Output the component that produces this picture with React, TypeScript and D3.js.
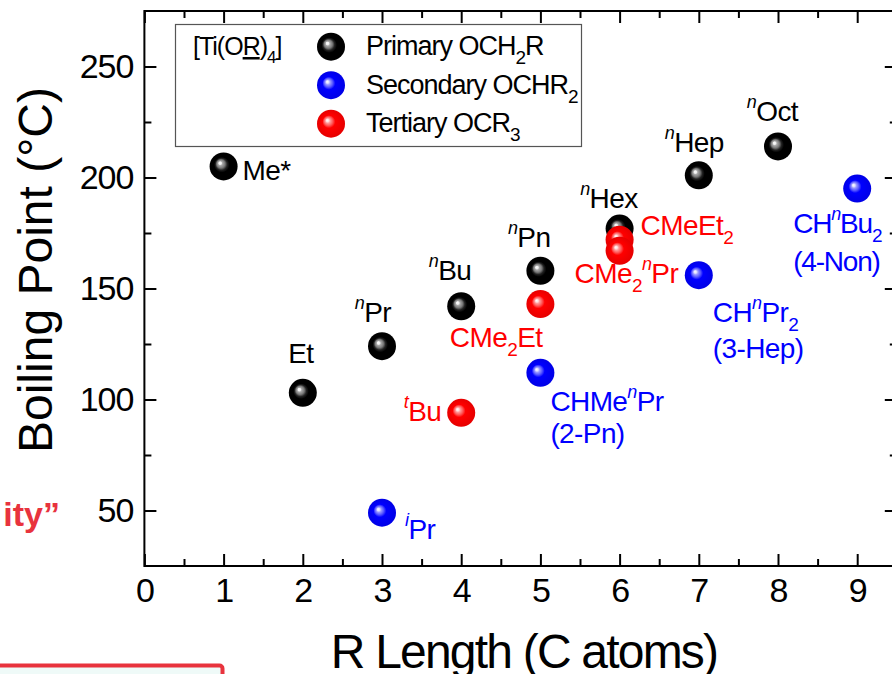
import * as d3 from 'd3';
import React, { useEffect, useRef } from 'react';

// R length (C atoms) vs boiling point (°C) for [Ti(OR)4]
const primaryNames = ['Me', 'Et', 'nPr', 'nBu', 'nPn', 'nHex', 'nHep', 'nOct'];
const primaryLength = [1, 2, 3, 4, 5, 6, 7, 8];
const primaryBp = [205, 103, 124, 142, 158, 177, 201, 214];

const secondaryNames = ['iPr', 'CHMenPr', 'CHnPr2', 'CHnBu2'];
const secondaryLength = [3, 5, 7, 9];
const secondaryBp = [49, 112, 156, 195];

const tertiaryNames = ['tBu', 'CMe2Et', 'CMeEt2', 'CMe2nPr'];
const tertiaryLength = [4, 5, 6, 6];
const tertiaryBp = [94, 143, 172, 167];

// label text, split into [text, kind] pieces ('' normal, 'sup' italic superscript, 'sub' subscript)
const labelText = {
  Me: [[['Me*', '']]],
  Et: [[['Et', '']]],
  nPr: [[['n', 'sup'], ['Pr', '']]],
  nBu: [[['n', 'sup'], ['Bu', '']]],
  nPn: [[['n', 'sup'], ['Pn', '']]],
  nHex: [[['n', 'sup'], ['Hex', '']]],
  nHep: [[['n', 'sup'], ['Hep', '']]],
  nOct: [[['n', 'sup'], ['Oct', '']]],
  iPr: [[['i', 'sup'], ['Pr', '']]],
  CHMenPr: [[['CHMe', ''], ['n', 'sup'], ['Pr', '']], [['(2-Pn)', '']]],
  CHnPr2: [[['CH', ''], ['n', 'sup'], ['Pr', ''], ['2', 'sub']], [['(3-Hep)', '']]],
  CHnBu2: [[['CH', ''], ['n', 'sup'], ['Bu', ''], ['2', 'sub']], [['(4-Non)', '']]],
  tBu: [[['t', 'sup'], ['Bu', '']]],
  CMe2Et: [[['CMe', ''], ['2', 'sub'], ['Et', '']]],
  CMeEt2: [[['CMeEt', ''], ['2', 'sub']]],
  CMe2nPr: [[['CMe', ''], ['2', 'sub'], ['n', 'sup'], ['Pr', '']]],
};

const legendItems = [
  { key: 'primary', parts: [['Primary OCH', ''], ['2', 'sub'], ['R', '']] },
  { key: 'secondary', parts: [['Secondary OCHR', ''], ['2', 'sub']] },
  { key: 'tertiary', parts: [['Tertiary OCR', ''], ['3', 'sub']] },
];

const xTicks = [0, 1, 2, 3, 4, 5, 6, 7, 8, 9];
const yTicks = [50, 100, 150, 200, 250];
const yMinorTicks = [75, 125, 175, 225];

// where each label sits relative to its ball (pixels)
const labelPos = {
  Me: { dx: 19, dy: 14, anchor: 'start' },
  Et: { dx: -2, dy: -30, anchor: 'middle' },
  nPr: { dx: 9, dy: -24, anchor: 'end' },
  nBu: { dx: 10, dy: -26, anchor: 'end' },
  nPn: { dx: 10, dy: -24, anchor: 'end' },
  nHex: { dx: 18, dy: -21, anchor: 'end' },
  nHep: { dx: 25, dy: -23, anchor: 'end' },
  nOct: { dx: 20, dy: -25, anchor: 'end' },
  iPr: { dx: 23, dy: 26, anchor: 'start' },
  CHMenPr: { dx: 10, dy: 38, anchor: 'start', line: 32 },
  CHnPr2: { dx: 14, dy: 47, anchor: 'start', line: 36 },
  CHnBu2: { dx: -64, dy: 44, anchor: 'start', line: 38 },
  tBu: { dx: -20, dy: 8, anchor: 'end' },
  CMe2Et: { dx: 2, dy: 43, anchor: 'end' },
  CMeEt2: { dx: 21, dy: -5, anchor: 'start' },
  CMe2nPr: { dx: -45, dy: 32, anchor: 'start' },
};

const colors = { primary: '#000000', secondary: '#0000ff', tertiary: '#ff0000' };
const FONT = '"Liberation Sans", Arial, Helvetica, sans-serif';

const addParts = (text, parts) => {
  let shift = 0;
  parts.forEach(([t, kind]) => {
    const ts = text.append('tspan').text(t);
    let target = 0;
    if (kind === 'sup') {
      target = -13;
      ts.attr('font-size', 18).attr('font-style', 'italic');
    } else if (kind === 'sub') {
      target = 9;
      ts.attr('font-size', 19);
    }
    if (target !== shift) ts.attr('dy', target - shift);
    shift = target;
  });
};

const BoilingChart = () => {
  const ref = useRef(null);

  useEffect(() => {
    const svg = d3.select(ref.current);
    svg.selectAll('*').remove();

    const x = d3.scaleLinear().domain([0, 9.5]).range([144.4, 896.8]);
    const y = d3.scaleLinear().domain([25, 275]).range([566, 11]);
    const xMinor = d3.range(0.5, 9.5, 1);

    // cut-off stuff from the neighbouring slide
    svg.append('rect')
      .attr('x', -10).attr('y', 665.5).attr('width', 232.5).attr('height', 40).attr('rx', 3)
      .attr('fill', '#effaf8').attr('stroke', '#e8333d').attr('stroke-width', 4);
    svg.append('text')
      .attr('x', 60).attr('y', 526).attr('text-anchor', 'end')
      .attr('font-family', FONT).attr('font-weight', 'bold').attr('font-size', 34)
      .attr('fill', '#e8333d').text('ity\u201d');

    // gradients for the shiny balls
    const defs = svg.append('defs');
    const gradStops = {
      primary: [[0, '#ffffff'], [0.1, '#eeeeee'], [0.16, '#aaaaaa'], [0.3, '#777777'], [0.42, '#222222'], [0.55, '#000000'], [1, '#000000']],
      secondary: [[0, '#ffffff'], [0.1, '#ddddff'], [0.18, '#9999ff'], [0.32, '#5555ff'], [0.46, '#0000ff'], [1, '#0000e6']],
      tertiary: [[0, '#ffffff'], [0.1, '#ffdddd'], [0.18, '#ff9999'], [0.32, '#ff5555'], [0.46, '#ff0000'], [1, '#e60000']],
    };
    Object.entries(gradStops).forEach(([k, stops]) => {
      const g = defs.append('radialGradient').attr('id', `ball-${k}`)
        .attr('cx', '50%').attr('cy', '50%').attr('r', '50%').attr('fx', '36%').attr('fy', '37%');
      stops.forEach(([o, c]) => g.append('stop').attr('offset', o).attr('stop-color', c));
    });

    // axes, ticks inside
    const styleAxis = (g) => {
      g.select('.domain').remove();
      g.selectAll('line').attr('stroke', '#000').attr('stroke-width', 2);
      g.selectAll('text').attr('font-family', FONT).attr('font-size', 34)
        .attr('letter-spacing', -1).attr('fill', '#000');
    };
    svg.append('g').attr('transform', 'translate(0,566)')
      .call(d3.axisBottom(x).tickValues(xTicks).tickSize(-12).tickPadding(12).tickFormat(d3.format('d')))
      .call(styleAxis);
    svg.append('g').attr('transform', 'translate(0,566)')
      .call(d3.axisBottom(x).tickValues(xMinor).tickSize(-7).tickFormat(() => ''))
      .call(styleAxis);
    svg.append('g').attr('transform', 'translate(0,11)')
      .call(d3.axisTop(x).tickValues(xTicks).tickSize(-12).tickFormat(() => ''))
      .call(styleAxis);
    svg.append('g').attr('transform', 'translate(0,11)')
      .call(d3.axisTop(x).tickValues(xMinor).tickSize(-7).tickFormat(() => ''))
      .call(styleAxis);
    svg.append('g').attr('transform', 'translate(144.4,0)')
      .call(d3.axisLeft(y).tickValues(yTicks).tickSize(-12).tickPadding(11))
      .call(styleAxis);
    svg.append('g').attr('transform', 'translate(144.4,0)')
      .call(d3.axisLeft(y).tickValues(yMinorTicks).tickSize(-7).tickFormat(() => ''))
      .call(styleAxis);
    svg.append('g').attr('transform', 'translate(896.8,0)')
      .call(d3.axisRight(y).tickValues(yTicks).tickSize(-12).tickFormat(() => ''))
      .call(styleAxis);
    svg.append('g').attr('transform', 'translate(896.8,0)')
      .call(d3.axisRight(y).tickValues(yMinorTicks).tickSize(-7).tickFormat(() => ''))
      .call(styleAxis);

    // frame
    svg.append('rect')
      .attr('x', x(0)).attr('y', y(275)).attr('width', x(9.5) - x(0)).attr('height', y(25) - y(275))
      .attr('fill', 'none').attr('stroke', '#000').attr('stroke-width', 2);

    // axis titles
    svg.append('text')
      .attr('transform', 'translate(52,270) rotate(-90)').attr('text-anchor', 'middle')
      .attr('font-family', FONT).attr('font-size', 48)
      .text('Boiling Point (\u00b0C)');
    svg.append('text')
      .attr('x', 524).attr('y', 668).attr('text-anchor', 'middle')
      .attr('font-family', FONT).attr('font-size', 48).attr('letter-spacing', -1.8)
      .text('R Length (C atoms)');

    // legend
    const leg = svg.append('g');
    leg.append('rect').attr('x', 175.5).attr('y', 24.5).attr('width', 406).attr('height', 122)
      .attr('fill', '#fff').attr('stroke', '#555').attr('stroke-width', 1.2);
    const head = leg.append('text').attr('x', 193).attr('y', 55)
      .attr('font-family', FONT).attr('font-size', 25).attr('letter-spacing', -1);
    head.append('tspan').text('[Ti(O');
    head.append('tspan').attr('text-decoration', 'underline').text('R');
    head.append('tspan').text(')');
    head.append('tspan').attr('font-size', 17).attr('dy', 8).text('4');
    head.append('tspan').attr('dy', -8).text(']');
    legendItems.forEach((item, i) => {
      const cy = 46.7 + i * 38.5;
      leg.append('circle').attr('cx', 331).attr('cy', cy).attr('r', 14)
        .attr('fill', `url(#ball-${item.key})`);
      const t = leg.append('text').attr('x', 366).attr('y', cy + 8.5)
        .attr('font-family', FONT).attr('font-size', 27).attr('letter-spacing', -1);
      addParts(t, item.parts);
    });

    // series
    const series = [
      { key: 'primary', names: primaryNames, len: primaryLength, bp: primaryBp },
      { key: 'secondary', names: secondaryNames, len: secondaryLength, bp: secondaryBp },
      { key: 'tertiary', names: tertiaryNames, len: tertiaryLength, bp: tertiaryBp },
    ];
    series.forEach((s) => {
      const pts = s.names.map((n, i) => ({ name: n, len: s.len[i], bp: s.bp[i] }));
      svg.append('g').selectAll('circle').data(pts).join('circle')
        .attr('cx', (d) => x(d.len)).attr('cy', (d) => y(d.bp)).attr('r', 14)
        .attr('fill', `url(#ball-${s.key})`);
    });
    series.forEach((s) => {
      s.names.forEach((n, i) => {
        const p = labelPos[n];
        const lines = labelText[n];
        lines.forEach((parts, li) => {
          const t = svg.append('text')
            .attr('x', x(s.len[i]) + p.dx)
            .attr('y', y(s.bp[i]) + p.dy + li * (p.line || 0))
            .attr('text-anchor', p.anchor)
            .attr('font-family', FONT).attr('font-size', 28)
            .attr('letter-spacing', n === 'CHnBu2' ? -1.2 : -0.6)
            .attr('fill', colors[s.key]);
          addParts(t, parts);
        });
      });
    });
  }, []);

  return (
    <svg ref={ref} width={892} height={674}
      style={{ position: 'absolute', left: 0, top: 0, display: 'block', background: '#fff' }} />
  );
};

export default function App() {
  return <BoilingChart />;
}
